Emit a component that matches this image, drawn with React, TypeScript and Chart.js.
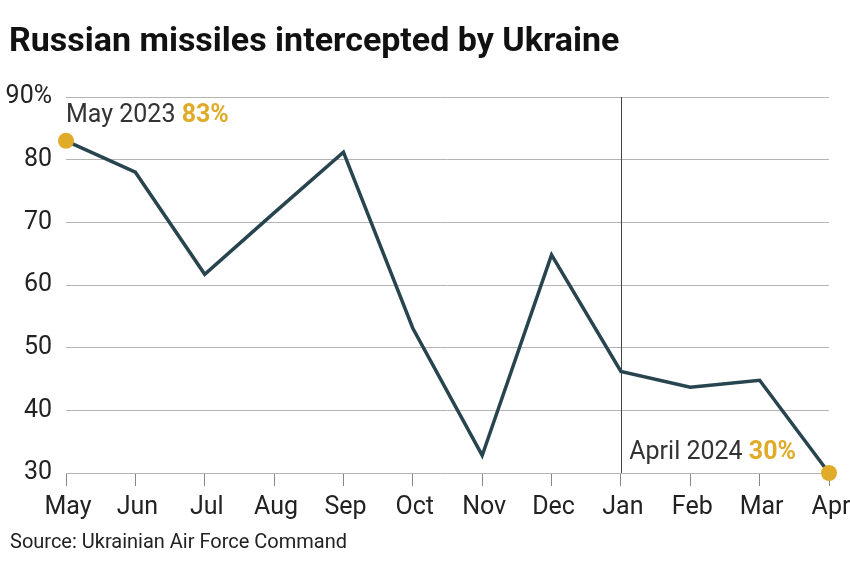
import React, { useEffect, useRef } from "react";
import { Chart, registerables } from "chart.js";

Chart.register(...registerables);

const months = ["May", "Jun", "Jul", "Aug", "Sep", "Oct", "Nov", "Dec", "Jan", "Feb", "Mar", "Apr"];
const intercepted = [83, 78, 61.7, 71.5, 81.2, 53.1, 32.8, 64.8, 46.2, 43.7, 44.8, 30];
const yTicks = [30, 40, 50, 60, 70, 80, 90];
const titleText = "Russian missiles intercepted by Ukraine";
const sourceText = "Source: Ukrainian Air Force Command";
const startLabel = ["May 2023 ", "83%"];
const endLabel = ["April 2024 ", "30%"];
const dividerMonth = "Jan";

const LINE = "#27444f";
const GOLD = "#e1ab2a";
const GRID = "#b4b4b4";
const TEXT = "#222222";
const FONT = "Roboto, 'Noto Sans', sans-serif";

const overlay = {
  id: "overlay",
  beforeDatasetsDraw(chart: any) {
    const { ctx, chartArea, scales } = chart;
    const x = scales.x.getPixelForValue(months.indexOf(dividerMonth));
    ctx.save();
    ctx.strokeStyle = "#444";
    ctx.lineWidth = 1;
    ctx.beginPath();
    ctx.moveTo(Math.round(x) + 0.5, chartArea.top);
    ctx.lineTo(Math.round(x) + 0.5, chartArea.bottom);
    ctx.stroke();
    ctx.restore();
  },
  afterDraw(chart: any) {
    const { ctx, scales } = chart;
    ctx.save();
    ctx.textBaseline = "alphabetic";
    ctx.textAlign = "left";
    ctx.fillStyle = "#111";
    ctx.font = `bold 34px ${FONT}`;
    ctx.fillText(titleText, 9, 51);
    ctx.font = `20px ${FONT}`;
    ctx.fillStyle = TEXT;
    ctx.fillText(sourceText, 10, 548);

    // start annotation
    const x0 = scales.x.getPixelForValue(0);
    const y0 = scales.y.getPixelForValue(intercepted[0]);
    ctx.font = `25px ${FONT}`;
    ctx.fillStyle = "#333";
    ctx.fillText(startLabel[0], x0, y0 - 19);
    const w0 = ctx.measureText(startLabel[0]).width;
    ctx.font = `bold 25px ${FONT}`;
    ctx.fillStyle = GOLD;
    ctx.fillText(startLabel[1], x0 + w0, y0 - 19);

    // end annotation (right-aligned)
    const n = intercepted.length - 1;
    const xn = scales.x.getPixelForValue(n);
    const yn = scales.y.getPixelForValue(intercepted[n]);
    ctx.font = `bold 25px ${FONT}`;
    const wb = ctx.measureText(endLabel[1]).width;
    ctx.font = `25px ${FONT}`;
    const wa = ctx.measureText(endLabel[0]).width;
    const right = xn - 33;
    ctx.fillStyle = "#333";
    ctx.fillText(endLabel[0], right - wb - wa, yn - 14);
    ctx.font = `bold 25px ${FONT}`;
    ctx.fillStyle = GOLD;
    ctx.fillText(endLabel[1], right - wb, yn - 14);
    ctx.restore();
  },
};

export default function App() {
  const ref = useRef<HTMLCanvasElement | null>(null);
  useEffect(() => {
    if (!ref.current) return;
    const last = intercepted.length - 1;
    const chart = new Chart(ref.current, {
      type: "line",
      data: {
        labels: months,
        datasets: [
          {
            data: intercepted,
            borderColor: LINE,
            borderWidth: 3.5,
            tension: 0,
            pointRadius: (c: any) => (c.dataIndex === 0 || c.dataIndex === last ? 8 : 0),
            pointHoverRadius: 0,
            pointBackgroundColor: GOLD,
            pointBorderColor: GOLD,
            pointBorderWidth: 0,
            clip: false as any,
          },
        ],
      },
      options: {
        animation: false,
        responsive: false,
        maintainAspectRatio: false,
        layout: { padding: { top: 97, right: 21, bottom: 0, left: 0 } },
        plugins: { legend: { display: false }, title: { display: false }, tooltip: { enabled: false } },
        scales: {
          x: {
            offset: false,
            grid: { drawOnChartArea: false, drawTicks: true, tickLength: 13, color: "#888", lineWidth: 1 },
            border: { display: false },
            ticks: { color: TEXT, font: { family: FONT, size: 25 }, padding: 7, labelOffset: 2, maxRotation: 0, autoSkip: false },
            afterFit: (s: any) => {
              s.height = 91;
              s.paddingLeft = 0;
              s.paddingRight = 0;
            },
          },
          y: {
            min: 30,
            max: 90,
            afterBuildTicks: (s: any) => { s.ticks = yTicks.map((v) => ({ value: v })); },
            grid: { color: GRID, lineWidth: 1, drawTicks: false },
            border: { display: false },
            ticks: {
              color: TEXT,
              font: { family: FONT, size: 25 },
              padding: 14,
              callback: (v: any) => (v === 90 ? `${v}%` : `${v}`),
            },
            afterFit: (s: any) => {
              s.width = 66;
              s.paddingTop = 0;
              s.paddingBottom = 0;
            },
          },
        },
      },
      plugins: [overlay],
    });
    return () => chart.destroy();
  }, []);
  return (
    <div style={{ position: "fixed", left: 0, top: 0, width: 850, height: 564, background: "#fff" }}>
      <canvas ref={ref} width={850} height={564} style={{ display: "block" }} />
    </div>
  );
}
